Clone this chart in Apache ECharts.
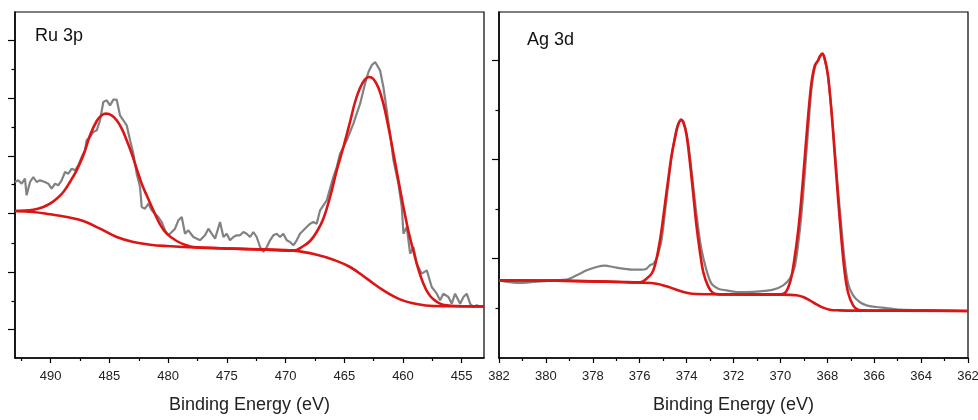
<!DOCTYPE html>
<html><head><meta charset="utf-8">
<script src="https://cdn.jsdelivr.net/npm/echarts@6/dist/echarts.min.js"></script>
<style>html,body{margin:0;padding:0;background:#fff}#c{width:978px;height:420px}</style>
</head><body><div id="c"></div>
<script>
// ---------- Ru 3p panel ----------
const ruXTicks = [490, 485, 480, 475, 470, 465, 460, 455];
const ruXMinorTicks = [492.5, 487.5, 482.5, 477.5, 472.5, 467.5, 462.5, 457.5];
const ruYTicks = [85, 258, 433, 606, 778, 953];
const ruYMinorTicks = [171, 345, 520, 693, 865];
const ruRaw = [[493.04,528],[492.76,533],[492.47,523],[492.19,538],[492.05,488],[491.76,528],[491.48,543],[491.20,528],[490.91,533],[490.49,528],[490.20,523],[489.92,508],[489.63,523],[489.35,518],[489.07,533],[488.78,558],[488.50,553],[488.21,568],[487.93,563],[487.65,578],[487.36,603],[487.08,623],[486.94,653],[486.65,663],[486.37,678],[486.08,683],[485.80,713],[485.52,768],[485.23,773],[484.95,758],[484.66,775],[484.38,775],[484.10,728],[483.81,713],[483.53,698],[483.24,653],[482.96,613],[482.68,553],[482.39,513],[482.25,453],[481.97,448],[481.68,463],[481.40,443],[481.11,433],[480.83,423],[480.55,408],[480.26,383],[479.98,368],[479.69,378],[479.41,388],[479.13,413],[478.84,423],[478.56,373],[478.28,383],[477.85,363],[477.28,353],[476.86,368],[476.57,388],[476.29,373],[476.00,358],[475.58,408],[475.29,363],[475.01,373],[474.73,353],[474.44,363],[474.16,368],[473.88,368],[473.59,378],[473.31,373],[473.02,363],[472.74,378],[472.46,363],[472.17,333],[471.89,318],[471.60,333],[471.32,353],[471.04,368],[470.75,373],[470.47,363],[470.19,373],[469.90,353],[469.62,348],[469.33,338],[469.05,353],[468.77,373],[468.48,383],[468.20,393],[467.91,403],[467.63,408],[467.35,403],[467.06,443],[466.78,458],[466.49,473],[466.21,508],[465.93,543],[465.64,573],[465.36,613],[465.07,633],[464.79,653],[464.51,678],[464.22,703],[463.94,733],[463.65,763],[463.23,823],[462.94,858],[462.66,878],[462.37,888],[462.23,893],[461.95,863],[461.67,813],[461.38,743],[461.10,673],[460.81,593],[460.39,523],[460.10,453],[459.96,373],[459.68,393],[459.39,313],[459.11,333],[458.83,283],[458.40,253],[457.97,263],[457.55,213],[457.12,193],[456.84,173],[456.56,193],[456.13,183],[455.85,163],[455.56,193],[455.13,163],[454.85,183],[454.57,193],[454.28,163],[454.00,153],[453.72,158],[453.29,153]];
const ruEnvelope = [[493.04,441],[491.48,445],[490.63,453],[490.06,463],[489.49,478],[488.92,498],[488.36,528],[487.79,563],[487.22,608],[486.65,668],[486.08,711],[485.66,728],[485.29,733],[484.81,728],[484.38,713],[483.95,688],[483.53,653],[483.10,613],[482.68,568],[482.25,523],[481.83,488],[481.26,443],[480.69,401],[480.12,373],[479.27,351],[478.42,338],[477.85,333],[474.44,328],[471.60,325],[469.33,322],[468.48,336],[467.91,351],[467.35,378],[466.78,418],[466.21,483],[465.64,563],[465.07,633],[464.51,708],[464.08,768],[463.65,811],[463.23,836],[462.89,843],[462.52,837],[462.09,811],[461.67,763],[461.24,693],[460.81,613],[460.39,533],[459.96,453],[459.54,381],[459.11,321],[458.68,265],[458.26,223],[457.83,193],[457.41,176],[456.84,163],[456.27,158],[455.42,156],[453.09,155]];
const ruBackground = [[493.04,441],[491.48,438],[490.06,431],[488.64,423],[487.22,411],[485.80,388],[484.38,363],[482.96,348],[481.54,340],[480.12,336],[477.28,331],[474.44,328],[471.60,325],[469.33,322],[467.35,310],[465.93,295],[464.51,273],[463.08,238],[461.67,203],[460.25,176],[458.83,162],[457.41,156],[453.09,155]];

// ---------- Ag 3d panel ----------
const agXTicks = [382, 380, 378, 376, 374, 372, 370, 368, 366, 364, 362];
const agXMinorTicks = [381, 379, 377, 375, 373, 371, 369, 367, 365, 363];
const agYTicks = [298, 595, 893];
const agYMinorTicks = [149, 446, 744];
const agRaw = [[382.00,233],[381.11,225],[380.54,228],[379.54,233],[379.12,235],[378.69,248],[378.26,263],[377.84,273],[377.48,277],[377.13,273],[376.70,268],[376.28,265],[375.92,265],[375.71,268],[375.57,278],[375.42,283],[375.28,298],[375.21,313],[375.07,353],[374.93,433],[374.78,523],[374.64,603],[374.50,663],[374.36,703],[374.22,713],[374.07,693],[373.93,643],[373.79,563],[373.65,473],[373.51,393],[373.36,323],[373.15,263],[372.94,223],[372.65,208],[372.30,203],[371.87,198],[371.45,198],[370.88,200],[370.31,205],[369.88,218],[369.60,238],[369.39,273],[369.24,343],[369.10,433],[368.96,553],[368.82,683],[368.68,803],[368.53,873],[368.39,893],[368.32,903],[368.21,911],[368.11,895],[367.97,845],[367.82,743],[367.68,623],[367.54,503],[367.40,393],[367.26,293],[367.11,223],[366.90,188],[366.62,168],[366.33,158],[365.91,153],[365.48,150],[364.91,145],[363.49,143],[362.00,141]];
const agEnvelope = [[382.00,233],[379.54,232],[378.12,230],[376.70,228],[376.13,227],[375.92,228],[375.71,238],[375.49,253],[375.35,278],[375.21,323],[375.07,383],[374.93,458],[374.78,538],[374.64,608],[374.50,658],[374.39,693],[374.24,715],[374.14,708],[374.00,668],[373.86,588],[373.72,495],[373.58,398],[373.43,318],[373.29,258],[373.08,215],[372.87,195],[372.58,191],[371.73,191],[370.31,191],[370.03,191],[369.81,195],[369.67,211],[369.53,243],[369.39,303],[369.24,383],[369.10,483],[368.96,603],[368.82,723],[368.68,823],[368.53,878],[368.39,893],[368.32,905],[368.21,913],[368.11,898],[367.97,848],[367.82,738],[367.68,608],[367.54,478],[367.40,358],[367.26,258],[367.11,195],[366.90,158],[366.69,145],[366.33,143],[363.92,142],[362.00,141]];
const agBackground = [[382.00,233],[379.54,232],[377.41,229],[375.99,226],[375.28,223],[374.86,215],[374.43,205],[374.00,196],[373.58,192],[372.44,191],[371.02,190],[369.88,190],[369.32,188],[369.03,183],[368.75,173],[368.46,161],[368.18,151],[367.90,145],[367.47,143],[366.76,142],[362.00,141]];

const panelLabels = ['Ru 3p', 'Ag 3d'];
const xTitle = 'Binding Energy (eV)';

const FONT = 'Liberation Sans, Arial, sans-serif';
const RED = '#dc1414';
const GRAY = '#828282';

function xMajor(grid, min, max, ticks) {
  return {
    type: 'value', gridIndex: grid, position: 'bottom', min: min, max: max, inverse: true,
    axisLine: { show: true, onZero: false, lineStyle: { color: '#000', width: 1.5 } },
    axisTick: { show: true, customValues: ticks, length: 5, lineStyle: { color: '#000', width: 1.2 } },
    axisLabel: { show: true, customValues: ticks, margin: 12, fontSize: 13, color: '#222', fontFamily: FONT, hideOverlap: false },
    splitLine: { show: false },
    name: xTitle, nameLocation: 'middle', nameGap: 38,
    nameTextStyle: { fontSize: 18, color: '#222', fontFamily: FONT }
  };
}
function xMinor(grid, min, max, ticks) {
  return {
    type: 'value', gridIndex: grid, position: 'bottom', min: min, max: max, inverse: true,
    axisLine: { show: false, onZero: false },
    axisTick: { show: true, customValues: ticks, length: 3, lineStyle: { color: '#000', width: 1.2 } },
    axisLabel: { show: false }, splitLine: { show: false }
  };
}
function yAx(grid, max, ticks, len, showLine) {
  return {
    type: 'value', gridIndex: grid, position: 'left', min: 0, max: max,
    axisLine: { show: showLine, onZero: false, lineStyle: { color: '#000', width: 1.5 } },
    axisTick: { show: true, customValues: ticks, length: len, lineStyle: { color: '#000', width: 1.2 } },
    axisLabel: { show: false }, splitLine: { show: false }
  };
}
function line(data, xi, yi, color, width, smooth, z) {
  return {
    type: 'line', data: data, xAxisIndex: xi, yAxisIndex: yi, symbol: 'none', showSymbol: false,
    smooth: smooth, lineStyle: { color: color, width: width }, z: z, silent: true, clip: true
  };
}

const chart = echarts.init(document.getElementById('c'), null, { renderer: 'canvas' });
chart.setOption({
  animation: false,
  backgroundColor: '#fff',
  grid: [
    { left: 15, top: 12, width: 469, height: 346, show: true, borderColor: '#000', borderWidth: 1.2, backgroundColor: 'transparent', containLabel: false, outerBoundsMode: 'none' },
    { left: 499, top: 12, width: 469, height: 346, show: true, borderColor: '#000', borderWidth: 1.2, backgroundColor: 'transparent', containLabel: false, outerBoundsMode: 'none' }
  ],
  xAxis: [
    xMajor(0, 453.1, 493.04, ruXTicks),
    xMinor(0, 453.1, 493.04, ruXMinorTicks),
    xMajor(1, 362, 382, agXTicks),
    xMinor(1, 362, 382, agXMinorTicks)
  ],
  yAxis: [
    yAx(0, 1038, ruYTicks, 7, true),
    yAx(0, 1038, ruYMinorTicks, 3.5, false),
    yAx(1, 1038, agYTicks, 7, true),
    yAx(1, 1038, agYMinorTicks, 3.5, false)
  ],
  series: [
    line(ruRaw, 0, 0, GRAY, 2.2, false, 2),
    line(ruBackground, 0, 0, RED, 2.6, 0.4, 3),
    line(ruEnvelope, 0, 0, RED, 2.6, 0.4, 4),
    line(agRaw, 2, 2, GRAY, 2.2, 0.3, 2),
    line(agBackground, 2, 2, RED, 2.6, 0.4, 3),
    line(agEnvelope, 2, 2, RED, 2.6, 0.3, 4)
  ],
  graphic: [
    { type: 'text', left: 35, top: 27, style: { text: panelLabels[0], font: '18px ' + FONT, fill: '#111' } },
    { type: 'text', left: 527, top: 31, style: { text: panelLabels[1], font: '18px ' + FONT, fill: '#111' } }
  ]
});
</script></body></html>
